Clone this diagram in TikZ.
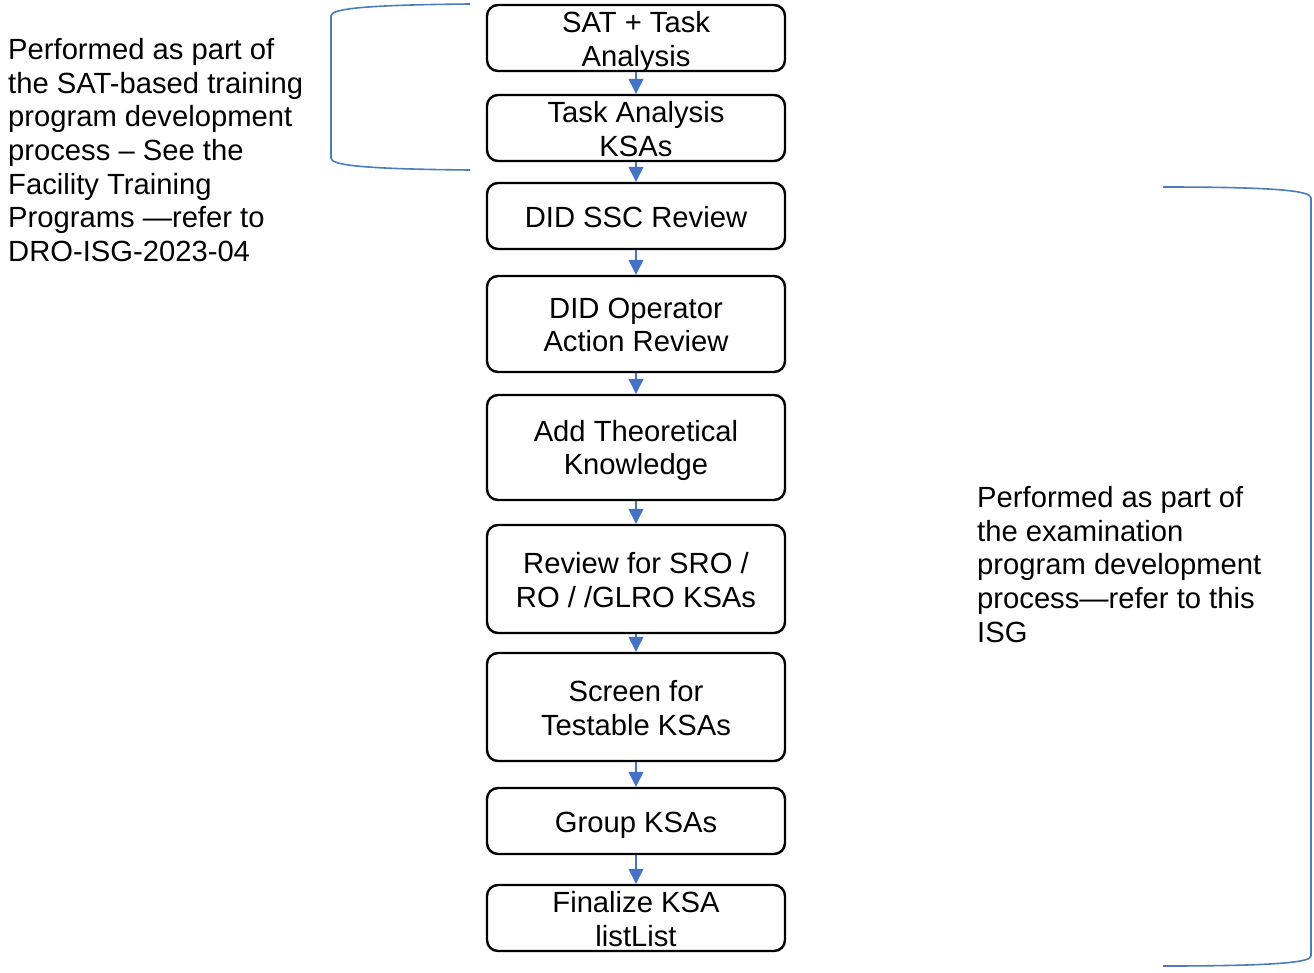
\documentclass[tikz,border=0pt]{standalone}
\usepackage{fontspec}
\setmainfont{Liberation Sans}
\usetikzlibrary{arrows.meta}
\definecolor{arrowblue}{HTML}{4472C4}
\definecolor{braceblue}{HTML}{4A7EBB}
\begin{document}
\begin{tikzpicture}[x=1pt,y=-1pt,
  font=\fontsize{29.2}{33.7}\selectfont,
  stepbox/.style={draw=black,line width=2.4pt,rounded corners=11pt,minimum width=298pt,inner sep=0pt,align=center},
  steptext/.style 2 args={label={[align=center,inner sep=0pt,yshift=-#1pt]center:{#2}}},
  flow/.style={draw=arrowblue,line width=1.4pt,-{Triangle[length=15pt,width=15pt]}},
  bracket/.style={draw=braceblue,line width=1.6pt},
  note/.style={align=left,inner sep=0pt,anchor=north west}]
\useasboundingbox (0,0) rectangle (1314,972);
\node[stepbox,minimum height=66pt,steptext={4}{SAT + Task\\Analysis}] (b1) at (636,38) {};
\node[stepbox,minimum height=66pt,steptext={1}{Task Analysis\\KSAs}] (b2) at (636,128) {};
\node[stepbox,minimum height=66pt,steptext={1}{DID SSC Review}] (b3) at (636,216) {};
\node[stepbox,minimum height=96pt,steptext={1}{DID Operator\\Action Review}] (b4) at (636,324) {};
\node[stepbox,minimum height=105pt,steptext={3}{Add Theoretical\\Knowledge}] (b5) at (636,447.5) {};
\node[stepbox,minimum height=108pt,steptext={1}{Review for SRO /\\RO / /GLRO KSAs}] (b6) at (636,579) {};
\node[stepbox,minimum height=108pt,steptext={1}{Screen for\\Testable KSAs}] (b7) at (636,707) {};
\node[stepbox,minimum height=66pt,steptext={4}{Group KSAs}] (b8) at (636,821) {};
\node[stepbox,minimum height=66pt,steptext={1}{Finalize KSA\\listList}] (b9) at (636,918) {};
\foreach \a/\b in {b1/b2,b2/b3,b3/b4,b4/b5,b5/b6,b6/b7,b7/b8,b8/b9}
  \draw[flow] (\a.south) -- (\b.north);
\node[note] (lt) at (8,38) {Performed as part of\\the SAT-based training\\program development\\process -- See the\\Facility Training\\Programs ---refer to\\DRO-ISG-2023-04};
\node[note] (rt) at (977,486) {Performed as part of\\the examination\\program development\\process---refer to this\\ISG};
\draw[bracket] (470,4) .. controls (360,5) and (331,9) .. (331,16) -- (331,158) .. controls (331,165) and (360,169) .. (470,170);
\draw[bracket] (1163,187) .. controls (1280,187) and (1311,191) .. (1311,198) -- (1311,956) .. controls (1311,962) and (1280,966) .. (1163,966);
\end{tikzpicture}
\end{document}
